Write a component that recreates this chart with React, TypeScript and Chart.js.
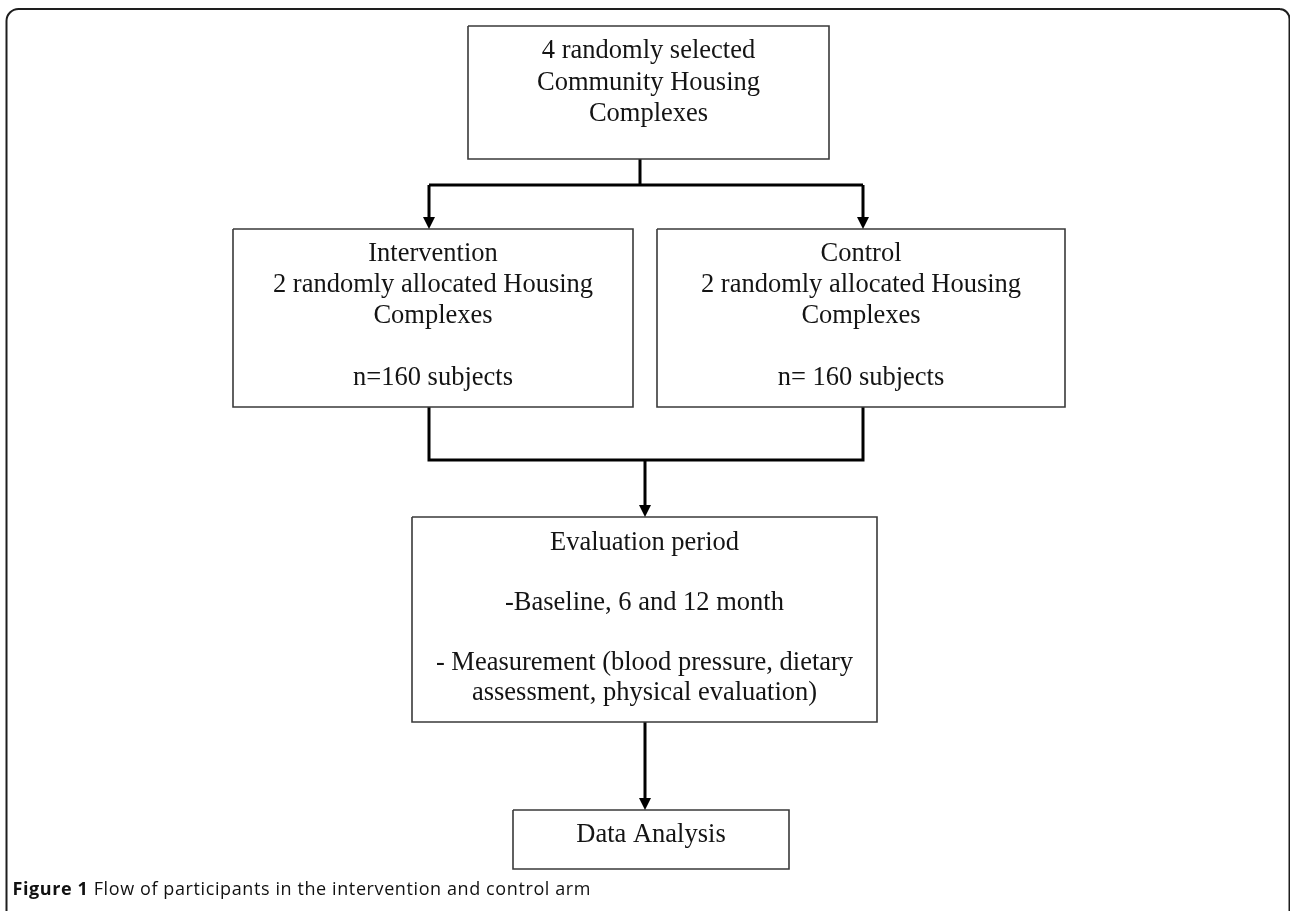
import React, { useEffect, useRef } from "react";
import { Chart, registerables } from "chart.js";

Chart.register(...registerables);

// ---- Flowchart content ----
const nodeLabels: string[][] = [
  ["4 randomly selected", "Community Housing", "Complexes"],
  ["Intervention", "2 randomly allocated Housing", "Complexes", "", "n=160 subjects"],
  ["Control", "2 randomly allocated Housing", "Complexes", "", "n= 160 subjects"],
  ["Evaluation period", "", "-Baseline, 6 and 12 month", "", "- Measurement (blood pressure, dietary", "assessment, physical evaluation)"],
  ["Data Analysis"],
];

// ---- Layout (data units = reference pixels) ----
const nodeX0 = [468, 233, 657, 412, 513];
const nodeX1 = [829, 633, 1065, 877, 789];
const nodeY0 = [26, 229, 229, 517, 810];
const nodeY1 = [159, 407, 407, 722, 869];
const nodeFirstLine = [51.5, 254.5, 254.5, 543, 835];
const nodeLineGap = [31.5, 31, 31, 30, 30];

const linkX = [[640, 640], [429, 863], [429, 429], [863, 863], [429, 429, 863, 863], [645, 645], [645, 645]];
const linkY = [[159, 185], [185, 185], [185, 229], [185, 229], [407, 460, 460, 407], [460, 517], [722, 810]];
const linkArrow = [false, false, true, true, false, true, true];

const captionBold = "Figure 1";
const captionText = "Flow of participants in the intervention and control arm";

const W = 1290;
const H = 911;
const ARROW_LEN = 12;
const ARROW_HALF = 6;

export default function App() {
  const ref = useRef<HTMLCanvasElement | null>(null);

  useEffect(() => {
    document.body.style.margin = "0";
    document.body.style.overflow = "hidden";
    const canvas = ref.current;
    if (!canvas) return;

    const boxDatasets = nodeLabels.map((_, i) => ({
      type: "line" as const,
      data: [
        { x: nodeX0[i], y: nodeY0[i] },
        { x: nodeX1[i], y: nodeY0[i] },
        { x: nodeX1[i], y: nodeY1[i] },
        { x: nodeX0[i], y: nodeY1[i] },
        { x: nodeX0[i], y: nodeY0[i] },
      ],
      showLine: true,
      borderColor: "#3a3a3a",
      borderWidth: 1.6,
      pointRadius: 0,
      fill: false,
      tension: 0,
      borderJoinStyle: "miter" as const,
    }));

    const linkDatasets = linkX.map((xs, i) => {
      const pts = xs.map((x, j) => ({ x, y: linkY[i][j] }));
      if (linkArrow[i]) {
        const last = pts[pts.length - 1];
        pts[pts.length - 1] = { x: last.x, y: last.y - ARROW_LEN + 2 };
      }
      return {
        type: "line" as const,
        data: pts,
        showLine: true,
        borderColor: "#000",
        borderWidth: 3,
        pointRadius: 0,
        fill: false,
        tension: 0,
        borderJoinStyle: "miter" as const,
        borderCapStyle: "butt" as const,
      };
    });

    const drawPlugin = {
      id: "flowExtras",
      beforeDatasetsDraw(chart: any) {
        const { ctx, scales } = chart;
        const sx = (v: number) => scales.x.getPixelForValue(v);
        const sy = (v: number) => scales.y.getPixelForValue(v);
        // outer frame
        ctx.save();
        ctx.strokeStyle = "#1e1e1e";
        ctx.lineWidth = 2;
        ctx.beginPath();
        const r = 12;
        ctx.moveTo(sx(6.5), sy(911));
        ctx.lineTo(sx(6.5), sy(9 + r));
        ctx.arcTo(sx(6.5), sy(9), sx(6.5 + r), sy(9), r);
        ctx.lineTo(sx(1280), sy(9));
        ctx.arcTo(sx(1289.5), sy(9), sx(1289.5), sy(9 + r), 10);
        ctx.lineTo(sx(1289.5), sy(911));
        ctx.stroke();
        ctx.restore();
      },
      afterDatasetsDraw(chart: any) {
        const { ctx, scales } = chart;
        const sx = (v: number) => scales.x.getPixelForValue(v);
        const sy = (v: number) => scales.y.getPixelForValue(v);
        ctx.save();
        // arrowheads
        ctx.fillStyle = "#000";
        linkX.forEach((xs, i) => {
          if (!linkArrow[i]) return;
          const tx = xs[xs.length - 1];
          const ty = linkY[i][linkY[i].length - 1];
          ctx.beginPath();
          ctx.moveTo(sx(tx), sy(ty));
          ctx.lineTo(sx(tx - ARROW_HALF), sy(ty - ARROW_LEN));
          ctx.lineTo(sx(tx + ARROW_HALF), sy(ty - ARROW_LEN));
          ctx.closePath();
          ctx.fill();
        });
        // node text
        ctx.fillStyle = "#141414";
        ctx.font = '26.5px "Liberation Serif", "Times New Roman", serif';
        ctx.textAlign = "center";
        ctx.textBaseline = "middle";
        nodeLabels.forEach((lines, i) => {
          const cx = (nodeX0[i] + nodeX1[i]) / 2;
          lines.forEach((line, j) => {
            if (!line) return;
            ctx.fillText(line, sx(cx), sy(nodeFirstLine[i] + j * nodeLineGap[i]));
          });
        });
        // caption
        ctx.textAlign = "left";
        ctx.textBaseline = "alphabetic";
        ctx.fillStyle = "#111";
        try { (ctx as any).letterSpacing = "0.6px"; } catch (e) {}
        ctx.font = 'bold 18px "Open Sans", sans-serif';
        const x0 = sx(12.5);
        const yb = sy(895);
        ctx.fillText(captionBold, x0, yb);
        const bw = ctx.measureText(captionBold + " ").width;
        ctx.font = '18px "Open Sans", sans-serif';
        ctx.fillText(captionText, x0 + bw, yb);
        ctx.restore();
      },
    };

    const chart = new Chart(canvas, {
      type: "scatter",
      data: { datasets: [...boxDatasets, ...linkDatasets] as any },
      options: {
        animation: false,
        responsive: false,
        maintainAspectRatio: false,
        layout: { padding: 0 },
        plugins: { legend: { display: false }, tooltip: { enabled: false }, title: { display: false } },
        events: [],
        scales: {
          x: { type: "linear", min: 0, max: W, display: false },
          y: { type: "linear", min: 0, max: H, reverse: true, display: false },
        },
      },
      plugins: [drawPlugin],
    });

    return () => chart.destroy();
  }, []);

  return (
    <div style={{ position: "absolute", left: 0, top: 0, width: W, height: H, background: "#fff" }}>
      <canvas ref={ref} width={W} height={H} style={{ width: W, height: H, display: "block" }} />
    </div>
  );
}
